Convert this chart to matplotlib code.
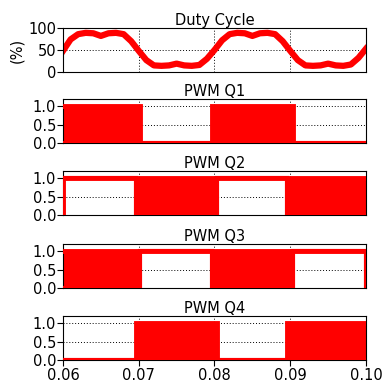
import matplotlib
matplotlib.use("Agg")
import matplotlib.pyplot as plt
import numpy as np

# ---- data ----
duty_t = [0.060, 0.061, 0.062, 0.063, 0.064, 0.065, 0.066, 0.067, 0.068, 0.069,
          0.070, 0.071, 0.072, 0.073, 0.074, 0.075, 0.076, 0.077, 0.078, 0.079,
          0.080, 0.081, 0.082, 0.083, 0.084, 0.085, 0.086, 0.087, 0.088, 0.089,
          0.090, 0.091, 0.092, 0.093, 0.094, 0.095, 0.096, 0.097, 0.098, 0.099,
          0.100]
duty_v = [48, 74, 86, 89, 88, 82, 88, 89, 86, 70,
          48, 27, 15, 14, 15, 19, 15, 14, 16, 30,
          50, 72, 86, 89, 88, 82, 88, 89, 86, 70,
          48, 27, 15, 14, 15, 19, 15, 14, 17, 32,
          53]

# PWM segments: (start, end, state) ; state 'S' = switching, otherwise constant level
q1_edges = [0.060, 0.0702, 0.0797, 0.0903, 0.100]
q1_states = ['S', 0, 'S', 0]
q2_edges = [0.060, 0.06006, 0.0696, 0.0803, 0.0896, 0.100]
q2_states = [0, 1, 'S', 1, 'S']
q3_edges = [0.060, 0.0702, 0.0797, 0.0903, 0.09994, 0.100]
q3_states = ['S', 1, 'S', 1, 0]
q4_edges = [0.060, 0.0696, 0.0803, 0.0896, 0.100]
q4_states = [0, 'S', 0, 'S']

titles = ["Duty Cycle", "PWM Q1", "PWM Q2", "PWM Q3", "PWM Q4"]
x_ticks = [0.06, 0.07, 0.08, 0.09, 0.10]
x_ticklabels = ["0.06", "0.07", "0.08", "0.09", "0.10"]

RED = "#ff0000"
FS = 10.5

fig = plt.figure(figsize=(3.83, 3.84), dpi=100)
left, width, height = 63/383, (366-63)/383, 44/384
bottoms_px = [72, 143, 215, 288, 360]
axes = [fig.add_axes([left, 1 - b/384, width, height]) for b in bottoms_px]

def style(ax, title, yticks, ylabels, ylim, last):
    ax.set_xlim(0.06, 0.10)
    ax.set_ylim(*ylim)
    ax.set_xticks(x_ticks)
    ax.set_yticks(yticks)
    ax.set_yticklabels(ylabels, fontsize=FS)
    if last:
        ax.set_xticklabels(x_ticklabels, fontsize=FS)
        ax.tick_params(axis='x', direction='out', length=4, width=0.8, pad=2)
    else:
        ax.set_xticklabels([])
        ax.tick_params(axis='x', length=0)
    ax.tick_params(axis='y', direction='out', length=4, width=0.8, pad=1)
    ax.grid(True, linestyle=(0, (1, 2)), color='black', linewidth=0.7)
    ax.set_axisbelow(True)
    for s in ax.spines.values():
        s.set_linewidth(0.8)
        s.set_color('black')
    ax.set_title(title, fontsize=FS, pad=2)

# Duty cycle
ax = axes[0]
ax.plot(duty_t, duty_v, color=RED, lw=4.5, solid_joinstyle='round', clip_on=True)
style(ax, titles[0], [0, 50, 100], ["0", "50", "100"], (0, 100), False)
ax.set_ylabel("(%)", fontsize=FS, labelpad=3)

def pwm(ax, edges, states):
    xs, lo, hi = [], [], []
    for i, st in enumerate(states):
        t0, t1 = edges[i], edges[i+1]
        if st == 'S':
            l, h = 0.0, 1.0
        else:
            l = h = float(st)
        xs += [t0, t1]
        lo += [l, l]
        hi += [h, h]
    xs = np.array(xs); lo = np.array(lo); hi = np.array(hi)
    ax.fill_between(xs, lo, hi, color=RED, lw=0, zorder=2)
    ax.plot(xs, hi, color=RED, lw=3.5, zorder=3, solid_joinstyle='miter')
    ax.plot(xs, lo, color=RED, lw=3.0, zorder=3, solid_joinstyle='miter')

for ax, e, s, t, last in zip(axes[1:], [q1_edges, q2_edges, q3_edges, q4_edges],
                             [q1_states, q2_states, q3_states, q4_states],
                             titles[1:], [False, False, False, True]):
    pwm(ax, e, s)
    style(ax, t, [0, 0.5, 1.0], ["0.0", "0.5", "1.0"], (0, 1.2), last)

fig.savefig("out.png", dpi=100)
